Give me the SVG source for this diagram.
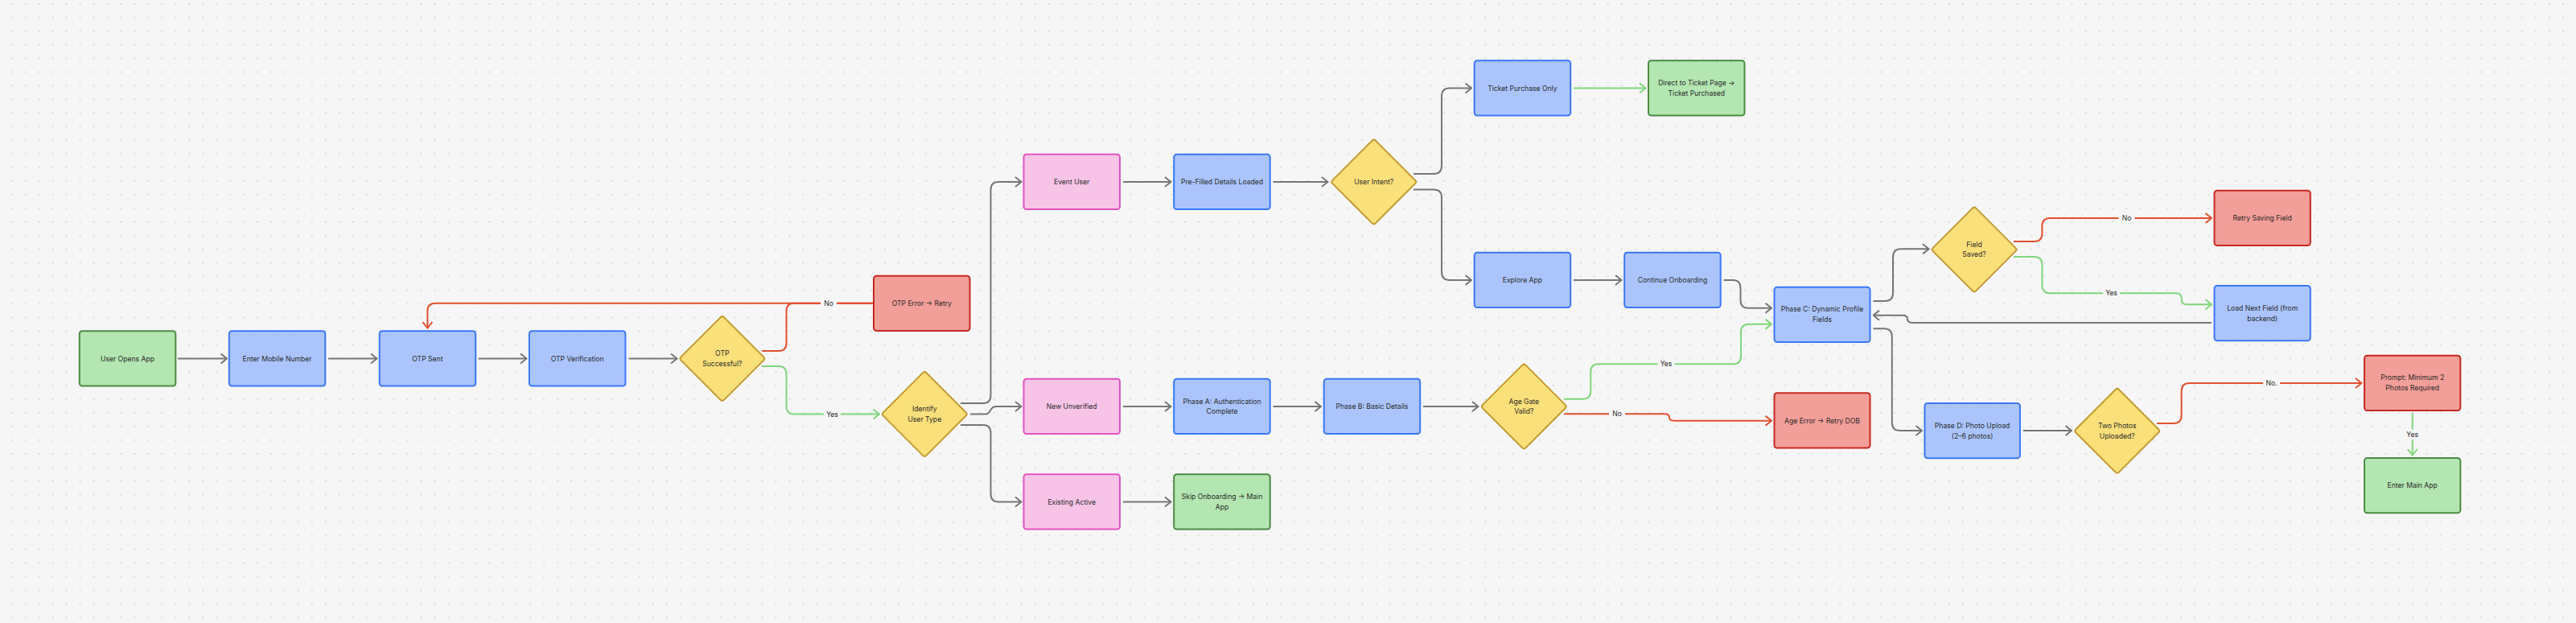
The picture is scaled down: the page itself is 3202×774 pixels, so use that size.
<svg xmlns="http://www.w3.org/2000/svg" width="3202" height="774" viewBox="0 0 3202 774">
<style>
.n rect{stroke-width:2}
.g rect{fill:#b3e6b1;stroke:#4d8a45}
.b rect{fill:#abc5fc;stroke:#3a78f2}
.p rect{fill:#f7c4e8;stroke:#e154c0}
.r rect{fill:#f29e99;stroke:#c52a20}
.y rect{fill:#fae07a;stroke:#c39a30}
text{font-family:Inter,"Liberation Sans",sans-serif;font-size:8.6px;fill:#2a2a2a;text-anchor:middle;dominant-baseline:central}
.e path{fill:none;stroke-width:2}
.k{stroke:#767676}
.red{stroke:#e0502f}
.grn{stroke:#7fd67b}
.lb{fill:#f6f6f6}
</style>
<defs>
<pattern id="dots" x="14" y="4" width="16.958" height="16.94" patternUnits="userSpaceOnUse">
<circle cx="0.5" cy="0.5" r="1" fill="#c4c4c4"/>
</pattern>
<marker id="ak" viewBox="0 0 10 14" refX="9" refY="7" markerWidth="10" markerHeight="14" markerUnits="userSpaceOnUse" orient="auto"><path d="M1.5,1 L9,7 L1.5,13" fill="none" stroke="#767676" stroke-width="2"/></marker>
<marker id="ar" viewBox="0 0 10 14" refX="9" refY="7" markerWidth="10" markerHeight="14" markerUnits="userSpaceOnUse" orient="auto"><path d="M1.5,1 L9,7 L1.5,13" fill="none" stroke="#e0502f" stroke-width="2"/></marker>
<marker id="ag" viewBox="0 0 10 14" refX="9" refY="7" markerWidth="10" markerHeight="14" markerUnits="userSpaceOnUse" orient="auto"><path d="M1.5,1 L9,7 L1.5,13" fill="none" stroke="#7fd67b" stroke-width="2"/></marker>
</defs>
<rect width="3202" height="774" fill="#f6f6f6"/>
<rect width="3202" height="774" fill="url(#dots)"/>

<g id="connectors" class="e">
<path class="k" d="M221 445.5 H282" marker-end="url(#ak)"/>
<path class="k" d="M408 445.5 H468.5" marker-end="url(#ak)"/>
<path class="k" d="M594.5 445.5 H654.5" marker-end="url(#ak)"/>
<path class="k" d="M781.5 445.5 H841.5" marker-end="url(#ak)"/>
<path class="red" d="M947 436 H968 Q977.5 436 977.5 426 V386.5 Q977.5 376.7 987 376.7 H1086"/>
<path class="red" d="M1086 376.7 H541 Q531.4 376.7 531.4 386.5 V407.5" marker-end="url(#ar)"/>
<path class="grn" d="M947 455 H968 Q977.5 455 977.5 465 V504.5 Q977.5 514.5 987 514.5 H1093" marker-end="url(#ag)"/>
<path class="k" d="M1194 501 H1222 Q1231.5 501 1231.5 491 V236 Q1231.5 226 1241 226 H1269.5" marker-end="url(#ak)"/>
<path class="k" d="M1206 514.5 H1225 C1232 514.5 1230 505 1238 505 H1269.5" marker-end="url(#ak)"/>
<path class="k" d="M1194 528 H1222 Q1231.5 528 1231.5 538 V613.5 Q1231.5 623.5 1241 623.5 H1269.5" marker-end="url(#ak)"/>
<path class="k" d="M1396 226 H1455.5" marker-end="url(#ak)"/>
<path class="k" d="M1396 505 H1455.5" marker-end="url(#ak)"/>
<path class="k" d="M1396 623.5 H1455.5" marker-end="url(#ak)"/>
<path class="k" d="M1582.5 226 H1650.5" marker-end="url(#ak)"/>
<path class="k" d="M1757 216 H1782 Q1792 216 1792 206 V119.5 Q1792 109.5 1802 109.5 H1829" marker-end="url(#ak)"/>
<path class="k" d="M1757 235.5 H1782 Q1792 235.5 1792 245.5 V338 Q1792 348 1802 348 H1829" marker-end="url(#ak)"/>
<path class="grn" d="M1956 109.5 H2045.5" marker-end="url(#ag)"/>
<path class="k" d="M1956 348 H2015.5" marker-end="url(#ak)"/>
<path class="k" d="M2142.5 348 H2154 Q2163.5 348 2163.5 358 V373 Q2163.5 382.7 2173 382.7 H2202" marker-end="url(#ak)"/>
<path class="k" d="M1582.5 505 H1642" marker-end="url(#ak)"/>
<path class="k" d="M1769 505 H1837.5" marker-end="url(#ak)"/>
<path class="grn" d="M1944 495.7 H1967.5 Q1977.2 495.7 1977.2 486 V462 Q1977.2 452.3 1987 452.3 H2154.5 Q2164 452.3 2164 442.5 V412.5 Q2164 402.7 2174 402.7 H2202" marker-end="url(#ag)"/>
<path class="red" d="M1944 514.3 H2069 Q2075 514.3 2075 518.5 Q2075 522.7 2081 522.7 H2202" marker-end="url(#ar)"/>
<path class="k" d="M2328.5 374 H2343 Q2353 374 2353 364 V319.3 Q2353 309.3 2363 309.3 H2397.5" marker-end="url(#ak)"/>
<path class="red" d="M2503 300 H2528.5 Q2538.4 300 2538.4 290 V281 Q2538.4 271 2548.4 271 H2749" marker-end="url(#ar)"/>
<path class="grn" d="M2503 319 H2528.5 Q2538.4 319 2538.4 329 V354.3 Q2538.4 364.3 2548.4 364.3 H2705 Q2711.6 364.3 2711.6 371 Q2711.6 378.3 2718 378.3 H2749" marker-end="url(#ag)"/>
<path class="k" d="M2749 401 H2377 Q2371 401 2371 396.3 Q2371 391.7 2365 391.7 H2328.5" marker-end="url(#ak)"/>
<path class="k" d="M2328.5 408.3 H2342 Q2351.8 408.3 2351.8 418 V525 Q2351.8 535 2361.8 535 H2389" marker-end="url(#ak)"/>
<path class="k" d="M2515 535 H2575" marker-end="url(#ak)"/>
<path class="red" d="M2681 526 H2701.5 Q2711.6 526 2711.6 516 V486 Q2711.6 476 2721.6 476 H2935.5" marker-end="url(#ar)"/>
<path class="grn" d="M2998.7 513 V565.5" marker-end="url(#ag)"/>
<rect class="lb" x="1020" y="370.7" width="20" height="12"/><text x="1030" y="376.7">No</text>
<rect class="lb" x="1024" y="508.5" width="21" height="12"/><text x="1034.5" y="514.5">Yes</text>
<rect class="lb" x="2060.5" y="446.3" width="21" height="12"/><text x="2071" y="452.3">Yes</text>
<rect class="lb" x="2000" y="508.3" width="20" height="12"/><text x="2010" y="514.3">No</text>
<rect class="lb" x="2633.5" y="265" width="20" height="12"/><text x="2643.5" y="271">No</text>
<rect class="lb" x="2614" y="358.3" width="21" height="12"/><text x="2624.5" y="364.3">Yes</text>
<rect class="lb" x="2813" y="470" width="21" height="12"/><text x="2823.5" y="476">No.</text>
<rect class="lb" x="2988" y="533.5" width="21" height="13"/><text x="2998.7" y="540">Yes</text>
</g>

<g id="n1" class="n g"><rect x="98.8" y="411.3" width="119.5" height="68.3" rx="3.5"/><text x="158.5" y="445.5">User Opens App</text></g>
<g id="n2" class="n b"><rect x="284.8" y="411.3" width="119.5" height="68.3" rx="3.5"/><text x="344.5" y="445.5">Enter Mobile Number</text></g>
<g id="n3" class="n b"><rect x="471.7" y="411.3" width="119.5" height="68.3" rx="3.5"/><text x="531.4" y="445.5">OTP Sent</text></g>
<g id="n4" class="n b"><rect x="657.9" y="411.3" width="119.5" height="68.3" rx="3.5"/><text x="717.6" y="445.5">OTP Verification</text></g>
<g id="d1" class="n y"><rect x="-37.8" y="-37.8" width="75.6" height="75.6" rx="3" transform="translate(897.8 445.5) rotate(45)"/><text x="897.8" y="439">OTP</text><text x="897.8" y="452">Successful?</text></g>
<g id="n5" class="n r"><rect x="1086" y="342.7" width="119.5" height="68.3" rx="3.5"/><text x="1145.8" y="376.8">OTP Error → Retry</text></g>
<g id="d2" class="n y"><rect x="-37.8" y="-37.8" width="75.6" height="75.6" rx="3" transform="translate(1149.3 514.5) rotate(45)"/><text x="1149.3" y="508">Identify</text><text x="1149.3" y="521">User Type</text></g>
<g id="n6" class="n p"><rect x="1272.5" y="191.7" width="119.5" height="68.3" rx="3.5"/><text x="1332.2" y="226">Event User</text></g>
<g id="n7" class="n b"><rect x="1459.2" y="191.7" width="119.5" height="68.3" rx="3.5"/><text x="1519" y="226">Pre-Filled Details Loaded</text></g>
<g id="d3" class="n y"><rect x="-37.8" y="-37.8" width="75.6" height="75.6" rx="3" transform="translate(1707.7 226) rotate(45)"/><text x="1707.7" y="226">User Intent?</text></g>
<g id="n8" class="n b"><rect x="1832.7" y="75.3" width="119.5" height="68.3" rx="3.5"/><text x="1892.4" y="109.5">Ticket Purchase Only</text></g>
<g id="n9" class="n g"><rect x="2049" y="75.3" width="119.5" height="68.3" rx="3.5"/><text x="2108.8" y="103">Direct to Ticket Page →</text><text x="2108.8" y="116">Ticket Purchased</text></g>
<g id="n10" class="n b"><rect x="1832.7" y="313.8" width="119.5" height="68.3" rx="3.5"/><text x="1892.4" y="348">Explore App</text></g>
<g id="n11" class="n b"><rect x="2019.2" y="313.8" width="119.5" height="68.3" rx="3.5"/><text x="2079" y="348">Continue Onboarding</text></g>
<g id="n12" class="n p"><rect x="1272.5" y="470.8" width="119.5" height="68.3" rx="3.5"/><text x="1332.2" y="505">New Unverified</text></g>
<g id="n13" class="n b"><rect x="1459.2" y="470.8" width="119.5" height="68.3" rx="3.5"/><text x="1519" y="498.6">Phase A: Authentication</text><text x="1519" y="511.4">Complete</text></g>
<g id="n14" class="n b"><rect x="1645.7" y="470.8" width="119.5" height="68.3" rx="3.5"/><text x="1705.4" y="505">Phase B: Basic Details</text></g>
<g id="d4" class="n y"><rect x="-37.8" y="-37.8" width="75.6" height="75.6" rx="3" transform="translate(1894.3 505) rotate(45)"/><text x="1894.3" y="498.6">Age Gate</text><text x="1894.3" y="511.4">Valid?</text></g>
<g id="n15" class="n p"><rect x="1272.5" y="589.3" width="119.5" height="68.3" rx="3.5"/><text x="1332.2" y="623.5">Existing Active</text></g>
<g id="n16" class="n g"><rect x="1459.2" y="589.3" width="119.5" height="68.3" rx="3.5"/><text x="1519" y="617.1">Skip Onboarding → Main</text><text x="1519" y="629.9">App</text></g>
<g id="n17" class="n b"><rect x="2205.5" y="356.7" width="119" height="68.3" rx="3.5"/><text x="2265" y="384.4">Phase C: Dynamic Profile</text><text x="2265" y="397.2">Fields</text></g>
<g id="n18" class="n r"><rect x="2205.5" y="488.3" width="119" height="68.3" rx="3.5"/><text x="2265" y="522.5">Age Error → Retry DOB</text></g>
<g id="d5" class="n y"><rect x="-37.8" y="-37.8" width="75.6" height="75.6" rx="3" transform="translate(2454 310) rotate(45)"/><text x="2454" y="303.6">Field</text><text x="2454" y="316.4">Saved?</text></g>
<g id="n19" class="n r"><rect x="2752.5" y="236.7" width="119.3" height="68.3" rx="3.5"/><text x="2812.2" y="270.8">Retry Saving Field</text></g>
<g id="n20" class="n b"><rect x="2752.5" y="355" width="119.3" height="68.3" rx="3.5"/><text x="2812.2" y="383">Load Next Field (from</text><text x="2812.2" y="395.8">backend)</text></g>
<g id="n21" class="n b"><rect x="2392.4" y="501" width="118.5" height="68.3" rx="3.5"/><text x="2451.6" y="528.8">Phase D: Photo Upload</text><text x="2451.6" y="541.6">(2–6 photos)</text></g>
<g id="d6" class="n y"><rect x="-37.8" y="-37.8" width="75.6" height="75.6" rx="3" transform="translate(2631.7 535.3) rotate(45)"/><text x="2631.7" y="528.9">Two Photos</text><text x="2631.7" y="541.7">Uploaded?</text></g>
<g id="n22" class="n r"><rect x="2939" y="441.7" width="119.3" height="68.3" rx="3.5"/><text x="2998.7" y="469.4">Prompt: Minimum 2</text><text x="2998.7" y="482.2">Photos Required</text></g>
<g id="n23" class="n g"><rect x="2939" y="569" width="119.3" height="68.3" rx="3.5"/><text x="2998.7" y="603.2">Enter Main App</text></g>
</svg>
